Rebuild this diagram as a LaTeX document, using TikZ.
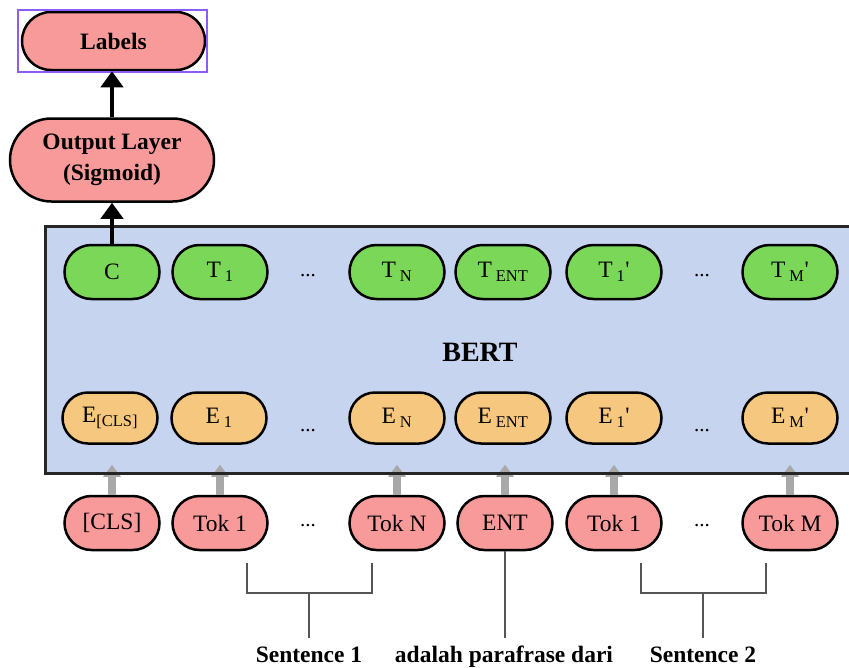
\documentclass[tikz,border=0pt]{standalone}
\usepackage{fontspec}
\setmainfont{Liberation Serif}
\newfontfamily\plainf{Liberation Serif}
\usetikzlibrary{shapes.misc,arrows.meta}
\definecolor{pinkf}{HTML}{F99A9A}
\definecolor{greenf}{HTML}{7AD758}
\definecolor{orangef}{HTML}{F6C87F}
\definecolor{bluef}{HTML}{C6D4EF}
\definecolor{purp}{HTML}{8B5CF6}
\definecolor{grayarr}{HTML}{A8A8A8}
\definecolor{brkc}{HTML}{555555}
\newcommand{\sbs}[1]{\textsubscript{#1}}
\newcommand{\prm}{{\plainf\char"27}}
\begin{document}
\begin{tikzpicture}[x=1pt,y=-1pt,
 pill/.style={rounded rectangle, draw=black, line width=2.5pt, minimum height=54pt, minimum width=95pt, inner sep=0pt, font=\fontsize{23.5}{27}\selectfont},
 tokn/.style={pill, fill=pinkf},
 tnode/.style={pill, fill=greenf},
 enode/.style={pill, fill=orangef, minimum height=51pt},
 bignode/.style={rounded rectangle, draw=black, line width=2.5pt, fill=pinkf, inner sep=0pt, font=\fontsize{23.5}{31}\bfseries\selectfont, align=center},
 dotsn/.style={font=\fontsize{21}{24}\selectfont, inner sep=0pt},
 blk/.style={line width=4pt, -{Triangle[width=22pt,length=16pt]}},
 garr/.style={grayarr, line width=7.5pt, -{Triangle[width=17pt,length=12pt]}},
 brk/.style={brkc, line width=1.5pt},
 bottomtxt/.style={font=\fontsize{23.5}{27}\bfseries\selectfont, anchor=base, inner sep=0pt},
]
\useasboundingbox (0,0) rectangle (849,667);

% BERT box fill
\node[fill=bluef, minimum width=806pt, minimum height=246pt, inner sep=0pt] (bert) at (449,350) {};
\node[font=\fontsize{28}{30}\bfseries\selectfont] (bertlbl) at (480,352) {BERT};

% top
\node[bignode, minimum width=183pt, minimum height=58pt] (lab) at (113.5,41) {Labels};
\draw[purp, line width=2pt] (18,10) rectangle (207,72);
\node[bignode, minimum width=204pt, minimum height=83pt] (out) at (112,160) {Output Layer\\(Sigmoid)};

% T row
\node[tnode] (c) at (112,272) {C};
\node[tnode] (t1) at (220,272) {T\,\sbs{1}};
\node[dotsn] (td1) at (308,276) {...};
\node[tnode] (tn) at (397,272) {T\,\sbs{N}};
\node[tnode] (tent) at (503,272) {T\,\sbs{ENT}};
\node[tnode] (t1p) at (614,272) {T\,\sbs{1}\prm};
\node[dotsn] (td2) at (702,276) {...};
\node[tnode] (tmp) at (790,272) {T\,\sbs{M}\prm};

% E row
\node[enode] (ecls) at (110,418) {E\sbs{[CLS]}};
\node[enode] (e1) at (219,418) {E\,\sbs{1}};
\node[dotsn] (ed1) at (308,431) {...};
\node[enode] (en) at (397,418) {E\,\sbs{N}};
\node[enode] (eent) at (503,418) {E\,\sbs{ENT}};
\node[enode] (e1p) at (614,418) {E\,\sbs{1}\prm};
\node[dotsn] (ed2) at (702,431) {...};
\node[enode] (emp) at (790,418) {E\,\sbs{M}\prm};

% token row
\node[tokn] (cls) at (112,523) {[CLS]};
\node[tokn] (tok1) at (220,523) {Tok 1};
\node[dotsn] (kd1) at (308,526) {...};
\node[tokn] (tokn) at (397,523) {Tok N};
\node[tokn] (ent) at (505,523) {ENT};
\node[tokn] (tok1p) at (614,523) {Tok 1};
\node[dotsn] (kd2) at (702,526) {...};
\node[tokn] (tokm) at (790,523) {Tok M};

% gray arrows
\foreach \a/\b in {cls/ecls, tok1/e1, tokn/en, ent/eent, tok1p/e1p, tokm/emp}{
  \draw[garr, shorten >=20pt] (\a.north) -- (\a.north |- \b.south);
}
% BERT box border on top
\draw[line width=3pt, black!85] (bert.north east) -- (bert.north west) -- (bert.south west) -- (bert.south east);

% black arrows
\draw[blk] (c.north) -- (c.north |- out.south);
\draw[blk] (out.north) -- (out.north |- lab.south);

% bottom labels
\node[bottomtxt] (s1) at (309,662) {Sentence 1};
\node[bottomtxt] (adl) at (504,662) {adalah parafrase dari};
\node[bottomtxt] (s2) at (703,662) {Sentence 2};

\coordinate (s1a) at (247,563);
\coordinate (s1b) at (372,563);
\coordinate (s1m) at (309,593);
\coordinate (s1e) at (309,638);
\draw[brk] (s1a) -- (s1a |- s1m) -- (s1b |- s1m) -- (s1b);
\draw[brk] (s1m) -- (s1e);

\coordinate (s2a) at (641,563);
\coordinate (s2b) at (766,563);
\coordinate (s2m) at (703,593);
\coordinate (s2e) at (703,638);
\draw[brk] (s2a) -- (s2a |- s2m) -- (s2b |- s2m) -- (s2b);
\draw[brk] (s2m) -- (s2e);

\coordinate (adle) at (504,638);
\draw[brk] (ent.south) -- (ent.south |- adle);
\end{tikzpicture}
\end{document}
